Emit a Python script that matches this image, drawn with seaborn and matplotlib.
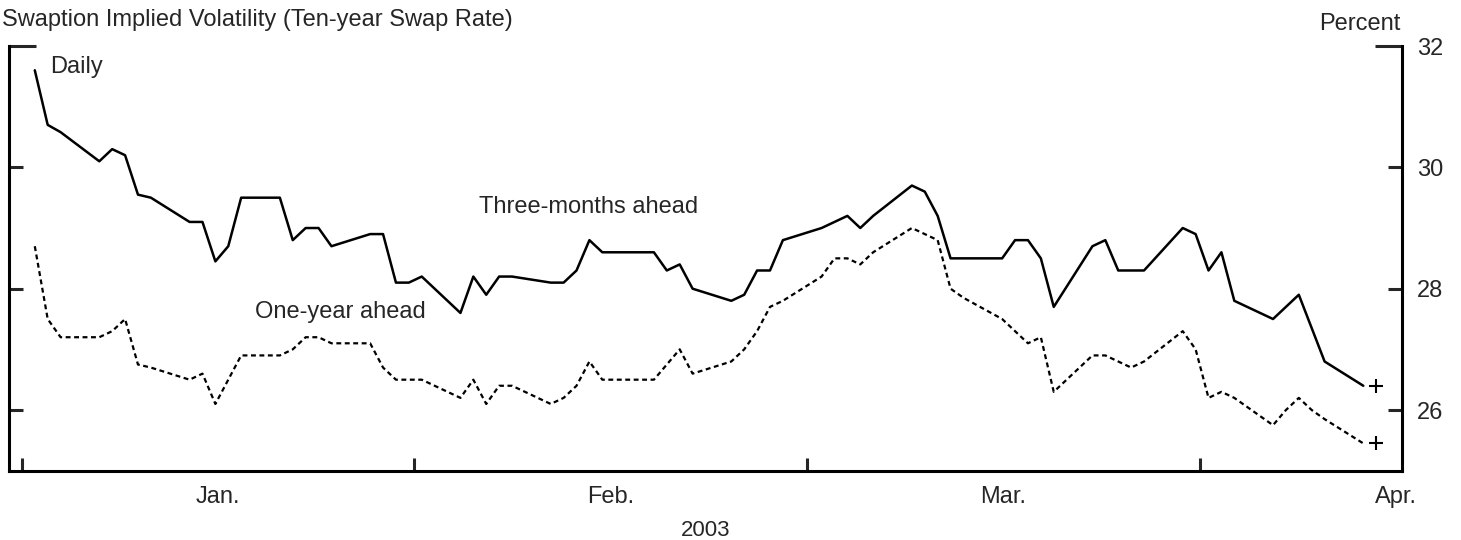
"""
Swaption implied volatility on the ten-year swap rate, daily,
three-months-ahead and one-year-ahead options.
"""

import matplotlib
import pandas as pd
import seaborn as sns

matplotlib.use("Agg")
import matplotlib.dates as mdates
import matplotlib.pyplot as plt
import matplotlib.ticker as mticker


# business days, 18 Dec 2002 .. 31 Mar 2003
DATES = pd.bdate_range("2002-12-18", "2003-03-31")

THREE_MONTHS = [
    31.6, 30.7, 30.58,
    30.1, 30.3, 30.2, 29.55, 29.5,
    29.1, 29.1, 28.45, 28.7, 29.5,
    29.5, 28.8, 29.0, 29.0, 28.7,
    28.9, 28.9, 28.1, 28.1, 28.2,
    27.6, 28.2, 27.9, 28.2, 28.2,
    28.1, 28.1, 28.3, 28.8, 28.6,
    28.6, 28.6, 28.3, 28.4, 28.0,
    27.8, 27.9, 28.3, 28.3, 28.8,
    29.0, 29.1, 29.2, 29.0, 29.2,
    29.7, 29.6, 29.2, 28.5, 28.5,
    28.5, 28.8, 28.8, 28.5, 27.7,
    28.7, 28.8, 28.3, 28.3, 28.3,
    29.0, 28.9, 28.3, 28.6, 27.8,
    27.5, 27.7, 27.9, 27.35, 26.8,
    26.4,
]

ONE_YEAR = [
    28.7, 27.5, 27.2,
    27.2, 27.3, 27.5, 26.75, 26.7,
    26.5, 26.6, 26.1, 26.5, 26.9,
    26.9, 27.0, 27.2, 27.2, 27.1,
    27.1, 26.7, 26.5, 26.5, 26.5,
    26.2, 26.5, 26.1, 26.4, 26.4,
    26.1, 26.2, 26.4, 26.8, 26.5,
    26.5, 26.5, 26.75, 27.0, 26.6,
    26.8, 27.0, 27.3, 27.7, 27.8,
    28.2, 28.5, 28.5, 28.4, 28.6,
    29.0, 28.9, 28.8, 28.0, 27.85,
    27.5, 27.3, 27.1, 27.2, 26.3,
    26.9, 26.9, 26.8, 26.7, 26.8,
    27.3, 27.0, 26.2, 26.3, 26.2,
    25.75, 26.0, 26.2, 26.0, 25.85,
    25.45,
]

# latest readings, marked with a plus
LATEST_DATE = "2003-04-01"
LATEST = [26.4, 25.45]

MONTHS = ["Jan.", "Feb.", "Mar.", "Apr."]
Y_TICKS = [26, 28, 30, 32]


def main():
    sns.set_style("ticks")
    plt.rcParams["font.family"] = ["Liberation Sans", "DejaVu Sans"]

    fig = plt.figure(figsize=(14.61, 5.40), dpi=100)
    ax = fig.add_axes([9 / 1461, 69.3 / 540, 1393 / 1461, 424.7 / 540])

    sns.lineplot(x=DATES, y=THREE_MONTHS, color="black", linewidth=1.8, ax=ax)
    sns.lineplot(
        x=DATES, y=ONE_YEAR, color="black", linewidth=1.6,
        linestyle=(0, (2.2, 1.6)), ax=ax,
    )
    sns.scatterplot(
        x=[pd.Timestamp(LATEST_DATE)] * len(LATEST), y=LATEST,
        marker="+", s=90, color="black", linewidth=1.5, ax=ax,
    )

    # month ticks equally spaced, names centred between them
    month_len = 365.25 / 12
    first = mdates.date2num(pd.Timestamp("2002-12-17"))
    ticks = [first + k * month_len for k in range(len(MONTHS))]
    ax.set_xlim(pd.Timestamp("2002-12-16"), pd.Timestamp("2003-04-03"))
    ax.set_xticks(ticks)
    ax.set_xticklabels([])
    ax.set_xticks([t + month_len / 2 for t in ticks], minor=True)
    ax.set_xticklabels(MONTHS, minor=True)
    ax.tick_params(axis="x", which="major", direction="in", length=9.5,
                   width=2.2, labelbottom=False)
    ax.tick_params(axis="x", which="minor", length=0, labelsize=17, pad=11)
    ax.set_xlabel("2003", fontsize=16, labelpad=9)

    ax.set_ylim(25, 32)
    ax.yaxis.set_major_locator(mticker.FixedLocator(Y_TICKS[-1:]))
    ax.yaxis.set_minor_locator(mticker.FixedLocator(Y_TICKS[:-1]))
    ax.yaxis.set_minor_formatter(mticker.FormatStrFormatter("%d"))
    ax.tick_params(axis="y", which="both", direction="in", left=True,
                   right=True, labelleft=False, labelright=True, width=2.2,
                   labelsize=17, pad=10.5)
    ax.tick_params(axis="y", which="major", length=19.5)
    ax.tick_params(axis="y", which="minor", length=10)
    ax.set_ylabel("")

    ax.spines["top"].set_visible(False)
    for side in ("left", "right", "bottom"):
        ax.spines[side].set_visible(True)
        ax.spines[side].set_linewidth(2.2)
        ax.spines[side].set_color("black")

    ax.text(0.0294, 0.936, "Daily", transform=ax.transAxes,
            va="baseline", fontsize=17)
    ax.text(0.416, 0.606, "Three-months ahead", transform=ax.transAxes,
            ha="center", va="baseline", fontsize=17)
    ax.text(0.2376, 0.3596, "One-year ahead", transform=ax.transAxes,
            ha="center", va="baseline", fontsize=17)

    fig.text(0.0015, 1 - 26 / 540,
             "Swaption Implied Volatility (Ten-year Swap Rate)",
             fontsize=17, va="baseline")
    fig.text(1360 / 1461, 1 - 30 / 540, "Percent", fontsize=17,
             ha="center", va="baseline")

    fig.savefig("out.png", dpi=100)
    plt.close(fig)


if __name__ == "__main__":
    main()
